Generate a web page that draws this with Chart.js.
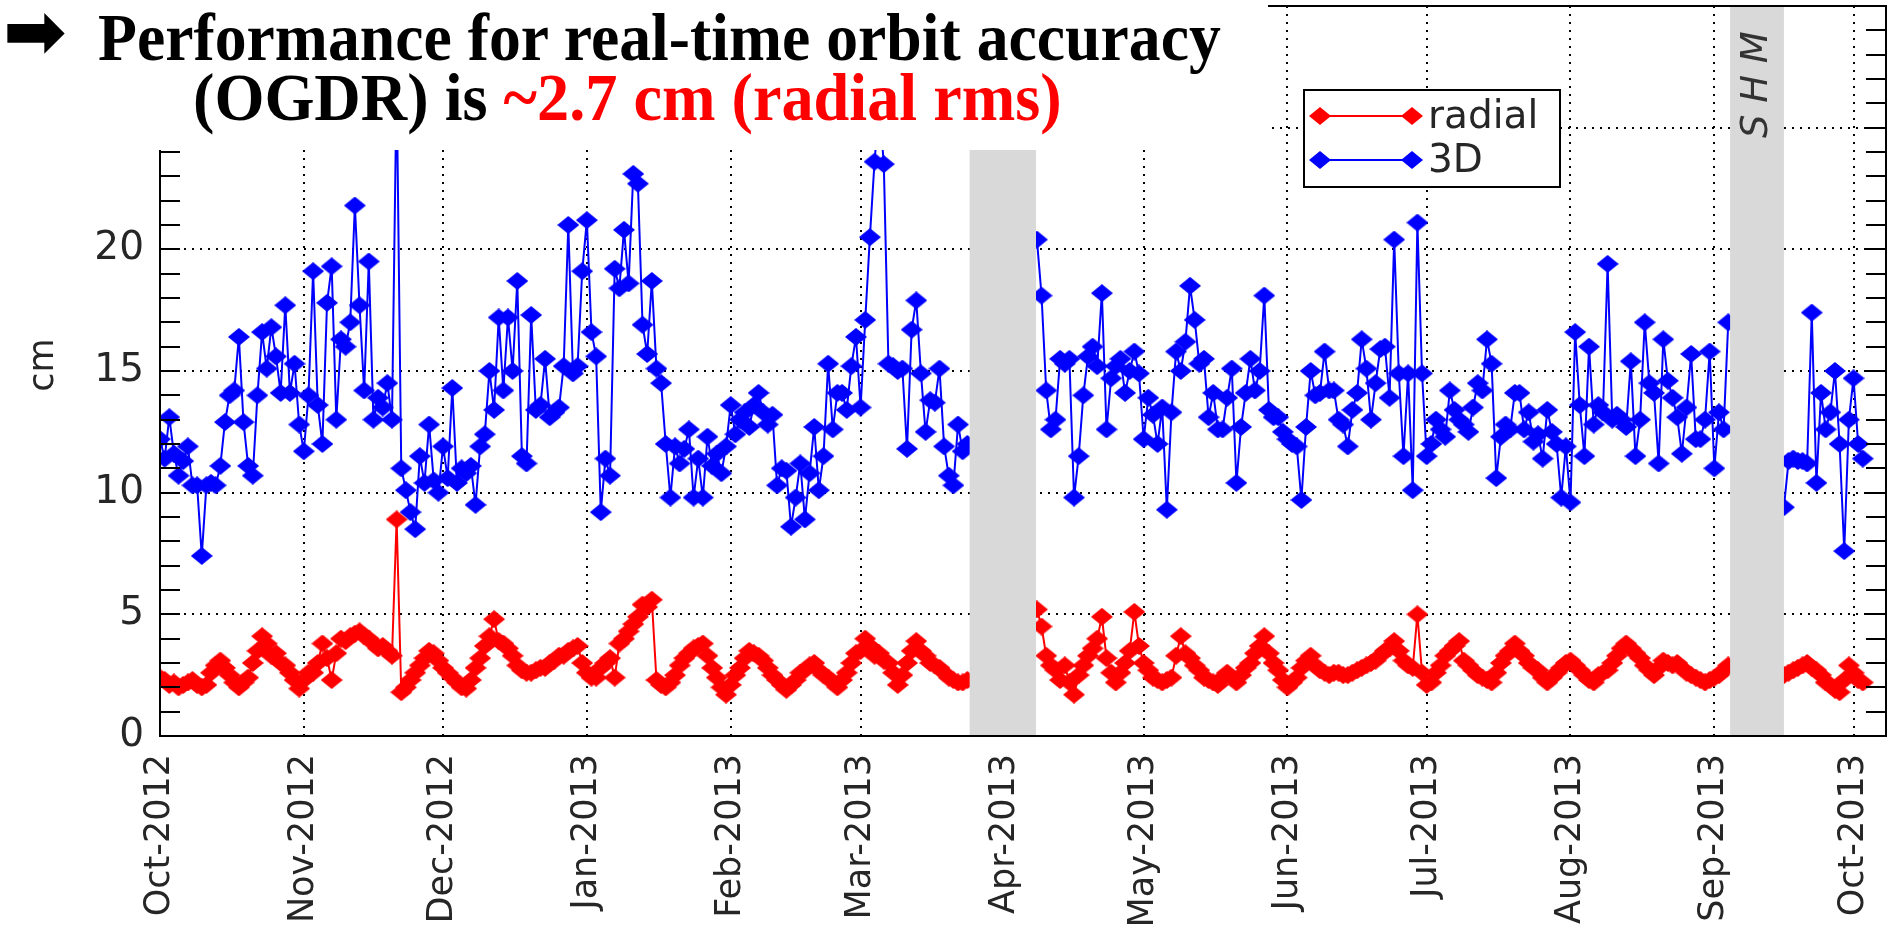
<!DOCTYPE html>
<html>
<head>
<meta charset="utf-8">
<script src="https://cdn.jsdelivr.net/npm/chart.js@4.4.1/dist/chart.umd.min.js"></script>
<style>
  body { margin: 0; background: #fff; }
  #wrap { position: relative; width: 1888px; height: 933px; overflow: hidden; }
  #title {
    position: absolute; left: 0; top: 0; width: 1268px; height: 150px; background: #fff;
    font-family: "Liberation Serif", "Times New Roman", serif; font-weight: bold; font-size: 68px;
  }
  .line { position: absolute; white-space: nowrap; line-height: 68px; transform-origin: 0 0; }
  .arrow { position: absolute; left: 3px; top: -7px; font-family: "DejaVu Sans"; font-size: 76px; line-height: 76px; font-weight: bold; }
  .red { color: #ff0000; }
</style>
</head>
<body>
<div id="wrap">
  <canvas id="orbitChart" width="1888" height="933"></canvas>
  <div id="title">
    <div class="arrow">➡</div>
    <div class="line" style="left:98px; top:3px; transform: scaleX(0.937)">Performance for real-time orbit accuracy</div>
    <div class="line" style="left:193px; top:63px; transform: scaleX(0.945)">(OGDR) is <span class="red">~2.7 cm (radial rms)</span></div>
  </div>
</div>
<script>
// days counted from 1 Oct 2012, one value per day
const monthDays = [0, 31, 61, 92, 123, 151, 182, 212, 243, 273, 304, 335, 365];
const monthLabels = ['Oct-2012', 'Nov-2012', 'Dec-2012', 'Jan-2013', 'Feb-2013', 'Mar-2013', 'Apr-2013',
  'May-2013', 'Jun-2013', 'Jul-2013', 'Aug-2013', 'Sep-2013', 'Oct-2013'];

// no data periods (grey bands), in days
const gapBands = [[174.5, 188.8], [338.4, 350.0]];
const gapNames = ['', 'S H M'];

const radialCm = [
  // Oct 2012
  2.4, 2.3, 2.1, 2.2, 2.0, 2.1, 2.2, 2.3, 2.1, 2.0, 2.1, 2.6, 2.9, 3.1, 2.8, 2.5, 2.2, 2.0, 2.2, 2.4,
  3.0, 3.5, 4.1, 3.8, 3.3, 3.4, 3.0, 2.9, 2.6, 2.3, 1.95,
  // Nov
  2.3, 2.6, 2.6, 3.0, 3.8, 3.2, 2.3, 3.4, 4.0, 3.9, 4.1, 4.2, 4.3, 4.1, 4.0, 3.8, 3.6, 3.7, 3.5, 3.3,
  8.9, 1.8, 2.0, 2.3, 2.6, 2.9, 3.2, 3.5, 3.4, 3.1,
  // Dec
  2.8, 2.6, 2.4, 2.2, 2.0, 1.95, 2.3, 2.8, 3.2, 3.7, 4.1, 4.8, 3.9, 3.8, 3.6, 3.3, 2.9, 2.7, 2.6, 2.6,
  2.7, 2.8, 2.8, 3.0, 3.1, 3.3, 3.3, 3.5, 3.6, 3.7, 3.0,
  // Jan 2013
  2.6, 2.4, 2.4, 2.8, 3.0, 3.2, 2.4, 3.8, 4.0, 4.3, 4.6, 4.9, 5.4, 5.3, 5.6, 2.3, 2.1, 2.0, 2.2, 2.5,
  2.9, 3.2, 3.4, 3.6, 3.7, 3.8, 3.3, 2.8, 2.4, 2.0, 1.7,
  // Feb
  2.1, 2.5, 2.8, 3.2, 3.5, 3.4, 3.3, 3.1, 2.8, 2.5, 2.3, 2.1, 1.9, 2.1, 2.3, 2.6, 2.7, 2.9, 3.0, 2.7,
  2.5, 2.4, 2.2, 2.0, 2.3, 2.6, 3.0, 3.4,
  // Mar
  3.5, 4.0, 3.7, 3.3, 3.4, 3.1, 3.0, 2.6, 2.1, 2.5, 3.0, 3.5, 3.9, 3.5, 3.3, 3.0, 2.9, 2.8, 2.6, 2.4,
  2.3, 2.2, 2.2, 2.3, null, null, null, null, null, null, null,
  // Apr
  null, null, null, null, null, null, null, 5.2, 4.5, 3.3, 2.9, 2.7, 2.3, 2.9, 2.2, 1.7, 2.5, 2.9, 3.3, 3.6,
  4.0, 4.9, 3.2, 2.6, 2.2, 2.6, 3.0, 3.5, 5.1, 3.7,
  // May
  3.0, 2.7, 2.4, 2.3, 2.2, 2.3, 2.4, 3.3, 4.1, 3.4, 3.2, 2.9, 2.7, 2.4, 2.3, 2.2, 2.1, 2.4, 2.6, 2.4,
  2.2, 2.5, 2.8, 3.0, 3.4, 3.7, 4.1, 3.4, 3.0, 2.7, 2.3,
  // Jun
  2.0, 2.2, 2.4, 2.8, 3.1, 3.3, 2.9, 2.7, 2.6, 2.5, 2.6, 2.6, 2.5, 2.5, 2.6, 2.7, 2.8, 2.9, 3.0, 3.1,
  3.3, 3.5, 3.6, 3.9, 3.5, 3.1, 2.9, 2.8, 5.0, 2.6,
  // Jul
  2.1, 2.2, 2.6, 2.9, 3.3, 3.5, 3.7, 3.9, 3.1, 2.9, 2.7, 2.5, 2.4, 2.3, 2.2, 2.6, 3.0, 3.3, 3.5, 3.8,
  3.5, 3.3, 3.0, 2.8, 2.7, 2.4, 2.2, 2.4, 2.6, 2.8, 3.0,
  // Aug
  3.1, 2.9, 2.7, 2.5, 2.3, 2.2, 2.5, 2.6, 2.7, 3.0, 3.3, 3.6, 3.8, 3.6, 3.4, 3.2, 2.9, 2.7, 2.5, 2.8,
  3.1, 3.0, 2.9, 3.0, 2.8, 2.6, 2.5, 2.4, 2.3, 2.2, 2.3,
  // Sep
  2.4, 2.5, 2.7, 2.9, null, null, null, null, null, null, null, null, null, null, null,
  2.5, 2.6, 2.7, 2.8, 2.9, 3.0, 2.8, 2.7, 2.5, 2.2, 2.1, 1.9, 1.8, 2.3, 2.9,
  // Oct 2013
  2.6, 2.3, 2.2, null
];

const total3dCm = [
  // Oct 2012
  12.2, 11.4, 13.1, 11.6, 10.7, 11.3, 11.9, 10.3, 10.3, 7.4, 10.3, 10.4, 10.3, 11.1, 12.9, 14.0, 14.2, 16.4,
  12.9, 11.1, 10.7, 14.0, 16.6, 15.1, 16.8, 15.6, 14.1, 17.7, 14.1, 15.3, 12.8,
  // Nov
  11.7, 14.0, 19.1, 13.6, 12.0, 17.8, 19.3, 13.0, 16.3, 16.0, 17.0, 21.8, 17.7, 14.2, 19.5, 13.0, 13.9, 13.5,
  14.5, 13.0, 27.0, 11.0, 10.1, 9.2, 8.5, 11.5, 10.4, 12.8, 10.5, 10.0,
  // Dec
  11.9, 10.6, 14.3, 10.4, 11.0, 10.8, 11.1, 9.5, 11.9, 12.4, 15.0, 13.4, 17.2, 14.2, 17.2, 15.0, 18.7, 11.5,
  11.2, 17.3, 13.4, 13.6, 15.5, 13.1, 13.3, 13.5, 15.2, 21.0, 14.9, 15.2, 19.1,
  // Jan 2013
  21.2, 16.6, 15.6, 9.2, 11.4, 10.7, 19.2, 18.4, 20.8, 18.6, 23.1, 22.7, 16.9, 15.7, 18.7, 15.1, 14.5, 12.0,
  9.8, 11.9, 11.2, 11.8, 12.6, 9.8, 11.4, 9.8, 12.3, 11.1, 11.6, 10.8, 11.9,
  // Feb
  13.6, 12.4, 13.0, 13.3, 12.7, 13.6, 14.1, 13.3, 12.8, 13.2, 10.3, 11.0, 10.9, 8.6, 9.8, 11.2, 8.9, 10.8,
  12.7, 10.1, 11.5, 15.3, 12.6, 14.1, 14.1, 13.4, 15.2, 16.4,
  // Mar
  13.5, 17.1, 20.5, 23.6, 26.0, 23.5, 15.3, 15.2, 15.0, 15.1, 11.8, 16.7, 17.9, 14.9, 12.5, 13.8, 13.7, 15.1,
  11.9, 10.7, 10.3, 12.8, 11.7, 12.0, null, null, null, null, null, null, null,
  // Apr
  null, null, null, null, null, null, null, 20.4, 18.1, 14.2, 12.6, 13.0, 15.5, 15.3, 15.5, 9.8, 11.5, 14.0,
  15.6, 16.0, 15.2, 18.2, 12.6, 14.7, 15.2, 15.5, 14.1, 15.0, 15.8, 14.9,
  // May
  12.2, 13.9, 13.2, 12.0, 13.5, 9.3, 13.3, 15.8, 15.0, 16.2, 18.5, 17.1, 15.3, 15.5, 13.1, 14.1, 12.6, 12.6,
  13.9, 15.1, 10.4, 12.7, 14.1, 15.5, 14.2, 15.0, 18.1, 13.4, 13.1, 13.1, 12.5,
  // Jun
  12.2, 12.0, 11.9, 9.7, 12.7, 15.0, 14.0, 14.1, 15.8, 14.2, 14.2, 13.0, 12.8, 11.9, 13.4, 14.1, 16.3, 15.1,
  13.0, 14.5, 15.9, 16.0, 13.9, 20.4, 14.9, 11.5, 14.9, 10.1, 21.1, 14.9,
  // Jul
  11.5, 12.0, 13.0, 12.6, 12.3, 14.2, 13.4, 13.0, 12.8, 12.5, 13.5, 14.5, 14.2, 16.3, 15.3, 10.6, 12.3, 12.8,
  12.6, 14.1, 14.1, 12.6, 13.3, 12.1, 12.4, 11.4, 13.4, 12.5, 12.0, 9.8, 11.9,
  // Aug
  9.6, 16.6, 13.6, 11.5, 16.0, 12.8, 13.6, 13.3, 19.4, 13.0, 13.2, 13.0, 12.7, 15.4, 11.5, 13.0, 17.0, 14.5,
  14.1, 11.2, 16.3, 14.6, 13.9, 13.1, 11.6, 13.5, 15.7, 12.2, 12.2, 13.0, 15.8,
  // Sep
  11.0, 13.3, 12.6, 17.0, null, null, null, null, null, null, null, null, null, null, null,
  9.4, 11.3, 11.4, 11.3, 11.3, 11.2, 17.4, 10.4, 14.1, 12.6, 13.3, 15.0, 12.0, 7.6, 13.0,
  // Oct 2013
  14.7, 12.0, 11.4, null
];

const days = radialCm.map((v, i) => i);

const fontSans = 'DejaVu Sans';
const textColor = '#262626';

// filled diamond marker, a bit wider than tall like the original
function diamond(color) {
  const c = document.createElement('canvas');
  c.width = 22; c.height = 18;
  const g = c.getContext('2d');
  g.fillStyle = color;
  g.beginPath();
  g.moveTo(11, 0); g.lineTo(22, 9); g.lineTo(11, 18); g.lineTo(0, 9);
  g.closePath();
  g.fill();
  return c;
}

const noPadding = s => { s.paddingTop = 0; s.paddingBottom = 0; s.paddingLeft = 0; s.paddingRight = 0; };

const decorations = {
  id: 'decorations',
  afterDatasetsDraw(chart) {
    const { ctx, chartArea: a, scales: { x } } = chart;
    ctx.save();
    ctx.fillStyle = '#d9d9d9';
    gapBands.forEach(([d0, d1], i) => {
      const x0 = x.getPixelForValue(d0);
      const x1 = x.getPixelForValue(d1);
      ctx.fillRect(x0, a.top, x1 - x0, a.bottom - a.top);
      if (gapNames[i]) {
        ctx.save();
        ctx.translate((x0 + x1) / 2, a.top + 132);
        ctx.rotate(-Math.PI / 2);
        ctx.font = 'italic 37px "' + fontSans + '"';
        ctx.fillStyle = '#333';
        ctx.textBaseline = 'middle';
        ctx.textAlign = 'left';
        ctx.fillText(gapNames[i], 0, 0);
        ctx.restore();
      }
    });
    ctx.restore();
  },
  afterDraw(chart) {
    const { ctx, chartArea: a, scales: { y } } = chart;
    ctx.save();
    // box + inward minor ticks
    ctx.strokeStyle = '#000';
    ctx.lineWidth = 2;
    ctx.strokeRect(a.left, a.top, a.right - a.left, a.bottom - a.top);
    ctx.beginPath();
    for (let v = y.min + 1; v < y.max; v++) {
      const yy = Math.round(y.getPixelForValue(v));
      ctx.moveTo(a.left, yy); ctx.lineTo(a.left + 20, yy);
      ctx.moveTo(a.right - 20, yy); ctx.lineTo(a.right, yy);
    }
    ctx.stroke();

    // y axis title
    ctx.save();
    ctx.translate(44, (a.top + a.bottom) / 2 - 6);
    ctx.rotate(-Math.PI / 2);
    ctx.font = '35px "' + fontSans + '"';
    ctx.fillStyle = textColor;
    ctx.textAlign = 'center';
    ctx.textBaseline = 'middle';
    ctx.fillText('cm', 0, 0);
    ctx.restore();

    // legend
    const lx = 1304, ly = 90, lw = 256, lh = 97;
    ctx.fillStyle = '#fff';
    ctx.fillRect(lx, ly, lw, lh);
    ctx.strokeStyle = '#000';
    ctx.strokeRect(lx, ly, lw, lh);
    ctx.font = '39px "' + fontSans + '"';
    ctx.textBaseline = 'middle';
    chart.data.datasets.forEach((ds, i) => {
      const yy = ly + 26 + i * 44;
      ctx.strokeStyle = ds.borderColor;
      ctx.lineWidth = 2;
      ctx.beginPath();
      ctx.moveTo(lx + 16, yy); ctx.lineTo(lx + 108, yy);
      ctx.stroke();
      [lx + 16, lx + 108].forEach(px => {
        ctx.drawImage(ds.pointStyle, px - ds.pointStyle.width / 2, yy - ds.pointStyle.height / 2);
      });
      ctx.fillStyle = textColor;
      ctx.fillText(ds.label, lx + 124, yy + 2);
    });
    ctx.restore();
  }
};

const gridDots = { color: '#000', lineWidth: 2, drawTicks: false };

new Chart(document.getElementById('orbitChart'), {
  type: 'line',
  data: {
    labels: days,
    datasets: [
      {
        label: 'radial', data: radialCm,
        borderColor: '#ff0000', backgroundColor: '#ff0000',
        borderWidth: 2, pointStyle: diamond('#ff0000'), pointRadius: 9,
        spanGaps: false, tension: 0
      },
      {
        label: '3D', data: total3dCm,
        borderColor: '#0000ff', backgroundColor: '#0000ff',
        borderWidth: 2, pointStyle: diamond('#0000ff'), pointRadius: 9,
        spanGaps: false, tension: 0
      }
    ]
  },
  options: {
    responsive: false,
    animation: false,
    events: [],
    layout: { autoPadding: false, padding: { top: 6, right: 2, left: 0, bottom: 0 } },
    plugins: { legend: { display: false }, tooltip: { enabled: false } },
    scales: {
      x: {
        type: 'linear', min: 0, max: 372, bounds: 'data',
        afterBuildTicks: s => { s.ticks = monthDays.map(v => ({ value: v })); s.min = 0; s.max = 372; },
        afterFit: s => { s.height = 197; noPadding(s); },
        grid: gridDots,
        border: { display: false, dash: [2, 6] },
        ticks: {
          autoSkip: false, maxRotation: 90, minRotation: 90, padding: 18,
          color: textColor, font: { family: fontSans, size: 35 },
          callback: (v, i) => monthLabels[i]
        }
      },
      y: {
        min: 0, max: 30,
        afterFit: s => { s.width = 160; noPadding(s); },
        grid: gridDots,
        border: { display: false, dash: [2, 6] },
        ticks: {
          stepSize: 5, padding: 16, color: textColor, font: { family: fontSans, size: 39 },
          callback: v => (v > 20 ? '' : v)
        }
      }
    }
  },
  plugins: [decorations]
});
</script>
</body>
</html>
